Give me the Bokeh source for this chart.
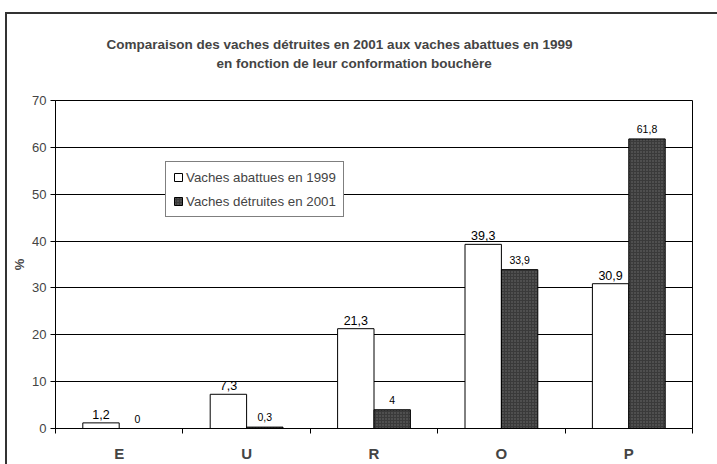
from bokeh.plotting import figure
from bokeh.models import (Range1d, FixedTicker, Legend, LegendItem, Title,
                          ColumnDataSource, LabelSet)
from bokeh.core.properties import value
from bokeh.embed import file_html
from bokeh.resources import INLINE

categories = ["E", "U", "R", "O", "P"]
abattues_1999 = [1.2, 7.3, 21.3, 39.3, 30.9]
detruites_2001 = [0, 0.3, 4, 33.9, 61.8]
y_ticks = [0, 10, 20, 30, 40, 50, 60, 70]
title_lines = ["Comparaison des vaches détruites en 2001 aux vaches abattues en 1999",
               "en fonction de leur conformation bouchère"]
series_names = ["Vaches abattues en 1999", "Vaches détruites en 2001"]

FONT = "Liberation Sans"
bw = 1 / 3.5  # bar width with gap 150%

def fmt(v):
    return f"{v:g}".replace(".", ",")

idx = list(range(len(categories)))
src1 = ColumnDataSource(dict(x=[i + 0.5 - bw / 2 for i in idx], top=abattues_1999,
                             lab=[fmt(v) for v in abattues_1999]))
src2 = ColumnDataSource(dict(x=[i + 0.5 + bw / 2 for i in idx], top=detruites_2001,
                             lab=[fmt(v) for v in detruites_2001]))

p = figure(width=717, height=464, output_backend="svg", toolbar_location=None,
           x_range=Range1d(0, len(categories)), y_range=Range1d(0, 70),
           min_border_left=55, min_border_right=25, min_border_top=100, min_border_bottom=36)
p.background_fill_color = "white"
p.border_fill_color = None
p.outline_line_color = "black"
p.outline_line_width = 1
p.styles = {
    "background-color": "white",
    "background-image": "linear-gradient(#333333, #333333), linear-gradient(#333333, #333333)",
    "background-size": "2px 100%, 100% 2px",
    "background-position": "5px 12px, 5px 12px",
    "background-repeat": "no-repeat",
}

r1 = p.vbar(x="x", top="top", width=bw, source=src1, fill_color="white", line_color="black", line_width=1)
r2 = p.vbar(x="x", top="top", width=bw, source=src2, fill_color="#3a3a3a", line_color="black",
            line_width=1, hatch_pattern="dot", hatch_color="#6e6e6e", hatch_scale=3, hatch_weight=1)

p.add_layout(LabelSet(x="x", y="top", text="lab", source=src1, text_align="center",
                      text_baseline="bottom", y_offset=4, text_font=value(FONT),
                      text_font_size="12.5px", text_color="black"))
p.add_layout(LabelSet(x="x", y="top", text="lab", source=src2, text_align="center",
                      text_baseline="bottom", y_offset=6, text_font=value(FONT),
                      text_font_size="10.5px", text_color="black"))

# axes
p.xgrid.visible = False
p.ygrid.grid_line_color = "black"
p.ygrid.grid_line_width = 1
p.ygrid.ticker = FixedTicker(ticks=y_ticks)

p.yaxis.ticker = FixedTicker(ticks=y_ticks)
p.yaxis.axis_label = "%"
p.yaxis.axis_label_text_font = FONT
p.yaxis.axis_label_text_font_style = "bold"
p.yaxis.axis_label_text_font_size = "13px"
p.yaxis.axis_label_standoff = 2
p.yaxis.major_label_text_font = FONT
p.yaxis.major_label_text_font_size = "13px"
p.yaxis.major_label_standoff = 4
p.yaxis.major_tick_out = 5
p.yaxis.major_tick_in = 0
p.yaxis.minor_tick_line_color = None
p.yaxis.axis_line_color = "black"

p.xaxis.ticker = FixedTicker(ticks=[i + 0.5 for i in idx], minor_ticks=list(range(len(categories) + 1)))
p.xaxis.major_label_overrides = {i + 0.5: c for i, c in zip(idx, categories)}
p.xaxis.major_label_text_font = FONT
p.xaxis.major_label_text_font_style = "bold"
p.xaxis.major_label_text_font_size = "15px"
p.xaxis.major_label_standoff = 11
p.xaxis.major_tick_out = 0
p.xaxis.major_tick_in = 0
p.xaxis.minor_tick_out = 5
p.xaxis.minor_tick_in = 0
p.xaxis.minor_tick_line_color = "black"
p.xaxis.axis_line_color = "black"

# legend
legend = Legend(items=[LegendItem(label=series_names[0], renderers=[r1]),
                       LegendItem(label=series_names[1], renderers=[r2])],
                location=(110, 211), orientation="vertical",
                label_text_font=FONT, label_text_font_size="13.3px",
                glyph_width=10, glyph_height=10, label_standoff=3, spacing=8,
                label_height=16, padding=7, margin=0,
                border_line_color="black", border_line_width=1,
                background_fill_color="white", background_fill_alpha=1)
p.add_layout(legend, "center")

# title lines (closest to the frame first): spacer, line 2, line 1
p.add_layout(Title(text=" ", standoff=26, text_font=FONT, text_font_size="1px"), "above")
p.add_layout(Title(text=title_lines[1], align="left", offset=161, standoff=2,
                   text_font=FONT, text_font_style="bold", text_font_size="13.5px"), "above")
p.add_layout(Title(text=title_lines[0], align="left", offset=51, standoff=2,
                   text_font=FONT, text_font_style="bold", text_font_size="13.5px"), "above")

open("out.html", "w").write(file_html(p, INLINE))
